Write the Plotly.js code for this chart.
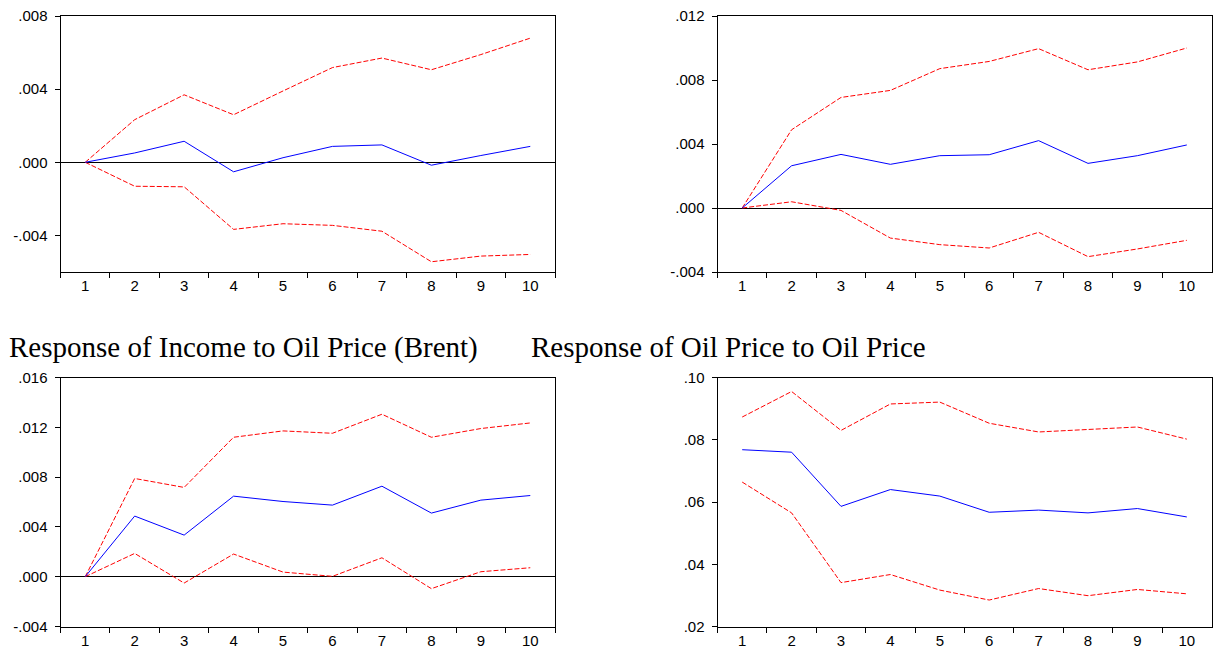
<!DOCTYPE html>
<html>
<head>
<meta charset="utf-8">
<script src="https://cdn.plot.ly/plotly-3.0.1.min.js"></script>
<style>html,body{margin:0;padding:0;background:#fff;}#chart{width:1215px;height:651px;}</style>
</head>
<body>
<div id="chart"></div>
<script>
// Periods
const periods = ['1','2','3','4','5','6','7','8','9','10'];

// Panel 1 (top-left)
const p1Resp  = [0, 0.00051, 0.00115, -0.00052, 0.00025, 0.00087, 0.00095, -0.00016, 0.00037, 0.00087];
const p1Upper = [0, 0.00233, 0.00369, 0.00260, 0.00390, 0.00518, 0.00570, 0.00506, 0.00589, 0.00679];
const p1Lower = [0, -0.00131, -0.00134, -0.00367, -0.00336, -0.00345, -0.00377, -0.00544, -0.00513, -0.00504];

// Panel 2 (top-right)
const p2Resp  = [0, 0.00264, 0.00335, 0.00273, 0.00327, 0.00333, 0.00421, 0.00279, 0.00327, 0.00394];
const p2Upper = [0, 0.00489, 0.00691, 0.00735, 0.00871, 0.00916, 0.00996, 0.00864, 0.00913, 0.01000];
const p2Lower = [0, 0.00039, -0.00015, -0.00188, -0.00229, -0.00250, -0.00152, -0.00304, -0.00256, -0.00202];

// Panel 3: Response of Income to Oil Price (Brent)
const p3Resp  = [0, 0.00487, 0.00334, 0.00647, 0.00604, 0.00575, 0.00727, 0.00511, 0.00615, 0.00652];
const p3Upper = [0, 0.00789, 0.00717, 0.01120, 0.01171, 0.01152, 0.01305, 0.01120, 0.01190, 0.01235];
const p3Lower = [0, 0.00187, -0.00051, 0.00182, 0.00037, 0.00003, 0.00152, -0.00096, 0.00040, 0.00072];

// Panel 4: Response of Oil Price to Oil Price
const p4Resp  = [0.0768, 0.0760, 0.0586, 0.0640, 0.0619, 0.0567, 0.0574, 0.0565, 0.0579, 0.0552];
const p4Upper = [0.0873, 0.0955, 0.0830, 0.0915, 0.0921, 0.0853, 0.0825, 0.0834, 0.0841, 0.0802];
const p4Lower = [0.0664, 0.0565, 0.0341, 0.0367, 0.0317, 0.0285, 0.0322, 0.0299, 0.0319, 0.0305];

// Tick values and labels
const y1Ticks = [-0.004, 0, 0.004, 0.008];
const y1Labels = ['-.004', '.000', '.004', '.008'];
const y2Ticks = [-0.004, 0, 0.004, 0.008, 0.012];
const y2Labels = ['-.004', '.000', '.004', '.008', '.012'];
const y3Ticks = [-0.004, 0, 0.004, 0.008, 0.012, 0.016];
const y3Labels = ['-.004', '.000', '.004', '.008', '.012', '.016'];
const y4Ticks = [0.02, 0.04, 0.06, 0.08, 0.10];
const y4Labels = ['.02', '.04', '.06', '.08', '.10'];

// Titles
const title3 = 'Response of Income to Oil Price (Brent)';
const title4 = 'Response of Oil Price to Oil Price';

const W = 1215, H = 651;
const blue = '#0000FF', red = '#FF0000';

function panel(resp, up, lo, xa, ya) {
  return [
    {x: periods, y: up, xaxis: xa, yaxis: ya, type: 'scatter', mode: 'lines',
     line: {color: red, width: 1, dash: '5px,2px'}, hoverinfo: 'skip'},
    {x: periods, y: lo, xaxis: xa, yaxis: ya, type: 'scatter', mode: 'lines',
     line: {color: red, width: 1, dash: '5px,2px'}, hoverinfo: 'skip'},
    {x: periods, y: resp, xaxis: xa, yaxis: ya, type: 'scatter', mode: 'lines',
     line: {color: blue, width: 1}, hoverinfo: 'skip'}
  ];
}

const data = [].concat(
  panel(p1Resp, p1Upper, p1Lower, 'x', 'y'),
  panel(p2Resp, p2Upper, p2Lower, 'x2', 'y2'),
  panel(p3Resp, p3Upper, p3Lower, 'x3', 'y3'),
  panel(p4Resp, p4Upper, p4Lower, 'x4', 'y4')
);

const tickFont = {family: 'Liberation Sans, Arial, sans-serif', size: 15, color: '#000'};

function xaxis(left, right, anchor) {
  return {
    type: 'category', domain: [left / W, right / W], anchor: anchor,
    range: [-0.5, 9.5], tickson: 'boundaries', ticks: 'outside', ticklen: 5,
    tickcolor: '#000', tickwidth: 1, showgrid: false, zeroline: false,
    showline: true, mirror: true, linecolor: '#000', linewidth: 1,
    tickfont: tickFont, fixedrange: true
  };
}
function yaxis(top, bottom, anchor, range, tv, tt, zero) {
  return {
    domain: [(H - bottom) / H, (H - top) / H], anchor: anchor,
    range: range, tickmode: 'array', tickvals: tv, ticktext: tt,
    ticks: 'outside', ticklen: 5, tickcolor: '#000', tickwidth: 1,
    showgrid: false, zeroline: zero, zerolinecolor: '#000', zerolinewidth: 1,
    showline: true, mirror: true, linecolor: '#000', linewidth: 1,
    tickfont: tickFont, ticklabelstandoff: 4, fixedrange: true
  };
}

const layout = {
  width: W, height: H, margin: {l: 0, r: 0, t: 0, b: 0},
  paper_bgcolor: '#fff', plot_bgcolor: '#fff', showlegend: false,
  xaxis: xaxis(60.5, 555, 'y'),
  yaxis: yaxis(16, 272, 'x', [-0.006, 0.008], y1Ticks, y1Labels, true),
  xaxis2: xaxis(717.5, 1211.5, 'y2'),
  yaxis2: yaxis(16, 272, 'x2', [-0.004, 0.012], y2Ticks, y2Labels, true),
  xaxis3: xaxis(60.5, 555, 'y3'),
  yaxis3: yaxis(377.5, 626.5, 'x3', [-0.004, 0.016], y3Ticks, y3Labels, true),
  xaxis4: xaxis(717.5, 1211.5, 'y4'),
  yaxis4: yaxis(377.5, 626.5, 'x4', [0.02, 0.10], y4Ticks, y4Labels, false),
  annotations: [
    {text: title3, xref: 'paper', yref: 'paper', x: 7 / W, y: (H - 347) / H,
     xanchor: 'left', yanchor: 'middle', showarrow: false,
     font: {family: 'Liberation Serif, Times New Roman, serif', size: 29, color: '#000'}},
    {text: title4, xref: 'paper', yref: 'paper', x: 529 / W, y: (H - 347) / H,
     xanchor: 'left', yanchor: 'middle', showarrow: false,
     font: {family: 'Liberation Serif, Times New Roman, serif', size: 29, color: '#000'}}
  ]
};

Plotly.newPlot('chart', data, layout, {displayModeBar: false, staticPlot: true});
</script>
</body>
</html>
